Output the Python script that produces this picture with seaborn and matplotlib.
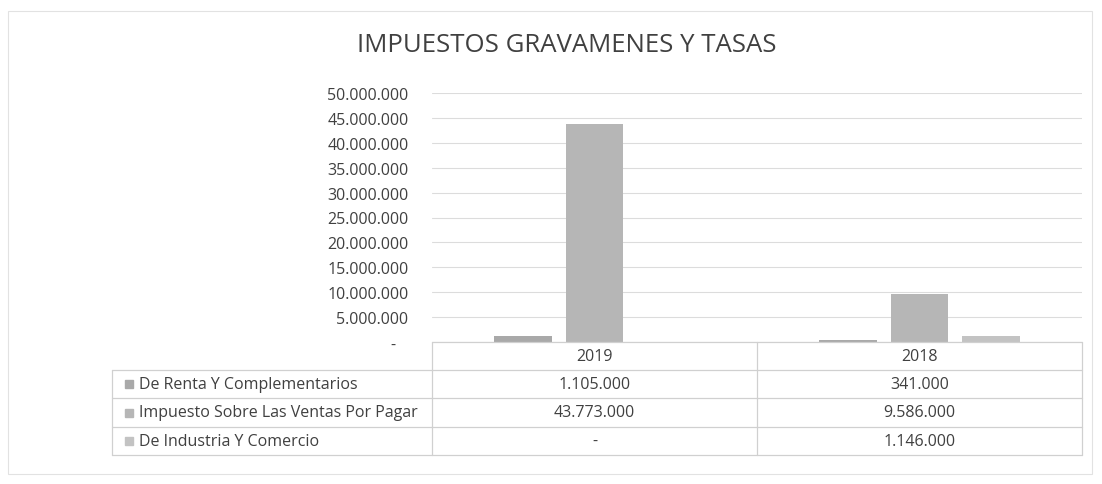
import matplotlib
matplotlib.use("Agg")
import matplotlib.pyplot as plt
import pandas as pd
import seaborn as sns
from matplotlib.lines import Line2D
from matplotlib.patches import Rectangle

years = ["2019", "2018"]
series = ["De Renta Y Complementarios",
          "Impuesto Sobre Las Ventas Por Pagar",
          "De Industria Y Comercio"]
renta = [1105000, 341000]
ventas = [43773000, 9586000]
industria = [0, 1146000]
colors = ["#a9a9a9", "#b6b6b6", "#c3c3c3"]

W, H = 1102, 485


def fx(x):
    return x / W


def fy(y):
    return 1 - y / H


def fmt(v):
    if v == 0:
        return "-"
    return f"{v:,.0f}".replace(",", ".")


rows = []
for s, vals in zip(series, [renta, ventas, industria]):
    for y, v in zip(years, vals):
        rows.append({"year": y, "serie": s, "value": v})
df = pd.DataFrame(rows)

sns.set_style("white")
plt.rcParams["font.family"] = ["Open Sans", "DejaVu Sans"]
txt = "#404040"
fs = 11.5

fig = plt.figure(figsize=(W / 100, H / 100), dpi=100)
ax = fig.add_axes([fx(432), fy(343), fx(1082) - fx(432), fy(94) - fy(343)])

sns.barplot(data=df, x="year", y="value", hue="serie", order=years,
            hue_order=series, palette=colors, width=0.66, gap=0.2,
            saturation=1, legend=False, linewidth=0, ax=ax)

ax.set_ylim(0, 50000000)
ax.set_xlim(-0.5, 1.5)
ticks = list(range(0, 50000001, 5000000))
ax.set_yticks(ticks)
ax.set_yticklabels([fmt(v) if v else "-   " for v in ticks],
                   fontsize=fs, color=txt)
ax.tick_params(axis="y", length=0, pad=17)
ax.set_xticks([])
ax.set_xlabel("")
ax.set_ylabel("")
ax.grid(axis="y", color="#dcdcdc", lw=0.8)
ax.set_axisbelow(True)
for sp in ax.spines.values():
    sp.set_visible(False)

fig.text(fx(567), fy(46), "IMPUESTOS GRAVAMENES Y TASAS", ha="center",
         va="center", fontsize=18.5, color=txt)

# data table
line_c = "#d0d0d0"
col_x = [112, 432, 757, 1082]
row_y = [343, 371, 399, 428, 456]


def hline(x0, x1, y):
    fig.add_artist(Line2D([fx(x0), fx(x1)], [fy(y), fy(y)], color=line_c, lw=0.9))


def vline(x, y0, y1):
    fig.add_artist(Line2D([fx(x), fx(x)], [fy(y0), fy(y1)], color=line_c, lw=0.9))


hline(432, 1082, row_y[0])
for y in row_y[1:]:
    hline(col_x[0], col_x[3], y)
vline(col_x[0], row_y[1], row_y[4])
for x in col_x[1:]:
    vline(x, row_y[0], row_y[4])

centers = [(col_x[1] + col_x[2]) / 2, (col_x[2] + col_x[3]) / 2]
for c, yr in zip(centers, years):
    fig.text(fx(c), fy((row_y[0] + row_y[1]) / 2), yr, ha="center", va="center",
             fontsize=fs, color=txt)

for i, (s, vals) in enumerate(zip(series, [renta, ventas, industria])):
    yc = (row_y[i + 1] + row_y[i + 2]) / 2
    fig.add_artist(Rectangle((fx(125), fy(yc + 4)), fx(8), 8 / H,
                             transform=fig.transFigure, color=colors[i]))
    fig.text(fx(139), fy(yc), s, ha="left", va="center", fontsize=fs, color=txt)
    for c, v in zip(centers, vals):
        fig.text(fx(c), fy(yc), fmt(v), ha="center", va="center",
                 fontsize=fs, color=txt)

# outer chart frame
fig.add_artist(Rectangle((fx(8), fy(475)), fx(1084), fy(12) - fy(475),
                         transform=fig.transFigure, fill=False,
                         edgecolor="#e2e2e2", lw=0.8))

fig.savefig("out.png", dpi=100)
